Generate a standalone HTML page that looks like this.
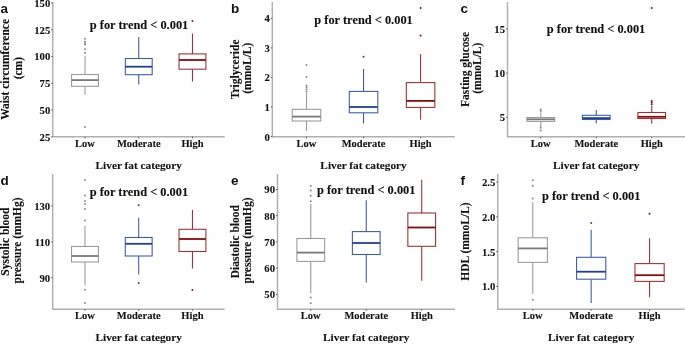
<!DOCTYPE html><html><head><meta charset="utf-8"><style>html,body{margin:0;padding:0;background:#fff;}body{width:685px;height:344px;overflow:hidden;}svg{display:block;will-change:transform;}</style></head><body><svg width="685" height="344" viewBox="0 0 685 344"><rect width="685" height="344" fill="#fff"/><path d="M52.8 2.0V136.8H224.7" fill="none" stroke="#b0b0b0" stroke-width="1.45"/><line x1="51.199999999999996" y1="136.80" x2="52.8" y2="136.80" stroke="#444" stroke-width="0.8"/><text x="50.3" y="140.70" font-family="Liberation Serif" font-weight="bold" stroke="#111" stroke-width="0.1" font-size="10.7" text-anchor="end" fill="#111">25</text><line x1="51.199999999999996" y1="110.04" x2="52.8" y2="110.04" stroke="#444" stroke-width="0.8"/><text x="50.3" y="113.94" font-family="Liberation Serif" font-weight="bold" stroke="#111" stroke-width="0.1" font-size="10.7" text-anchor="end" fill="#111">50</text><line x1="51.199999999999996" y1="83.28" x2="52.8" y2="83.28" stroke="#444" stroke-width="0.8"/><text x="50.3" y="87.18" font-family="Liberation Serif" font-weight="bold" stroke="#111" stroke-width="0.1" font-size="10.7" text-anchor="end" fill="#111">75</text><line x1="51.199999999999996" y1="56.52" x2="52.8" y2="56.52" stroke="#444" stroke-width="0.8"/><text x="50.3" y="60.42" font-family="Liberation Serif" font-weight="bold" stroke="#111" stroke-width="0.1" font-size="10.7" text-anchor="end" fill="#111">100</text><line x1="51.199999999999996" y1="29.76" x2="52.8" y2="29.76" stroke="#444" stroke-width="0.8"/><text x="50.3" y="33.66" font-family="Liberation Serif" font-weight="bold" stroke="#111" stroke-width="0.1" font-size="10.7" text-anchor="end" fill="#111">125</text><line x1="51.199999999999996" y1="3.00" x2="52.8" y2="3.00" stroke="#444" stroke-width="0.8"/><text x="50.3" y="6.90" font-family="Liberation Serif" font-weight="bold" stroke="#111" stroke-width="0.1" font-size="10.7" text-anchor="end" fill="#111">150</text><line x1="85.03" y1="136.8" x2="85.03" y2="138.4" stroke="#444" stroke-width="0.8"/><text x="85.03" y="147.00" font-family="Liberation Serif" font-weight="bold" stroke="#111" stroke-width="0.1" font-size="10.5" text-anchor="middle" fill="#111">Low</text><line x1="138.75" y1="136.8" x2="138.75" y2="138.4" stroke="#444" stroke-width="0.8"/><text x="138.75" y="147.00" font-family="Liberation Serif" font-weight="bold" stroke="#111" stroke-width="0.1" font-size="10.5" text-anchor="middle" fill="#111">Moderate</text><line x1="192.47" y1="136.8" x2="192.47" y2="138.4" stroke="#444" stroke-width="0.8"/><text x="192.47" y="147.00" font-family="Liberation Serif" font-weight="bold" stroke="#111" stroke-width="0.1" font-size="10.5" text-anchor="middle" fill="#111">High</text><text x="138.75" y="168.50" font-family="Liberation Serif" font-weight="bold" stroke="#111" stroke-width="0.1" font-size="11.3" text-anchor="middle" fill="#111">Liver fat category</text><g stroke="#9a9a9a" stroke-width="1.07" fill="none"><line x1="85.03" y1="56.2" x2="85.03" y2="74.5"/><line x1="85.03" y1="86.3" x2="85.03" y2="94.7"/><rect x="71.60" y="74.5" width="26.86" height="11.80" fill="#fff"/></g><line x1="71.60" y1="80.1" x2="98.46" y2="80.1" stroke="#7a7a7a" stroke-width="1.8"/><circle cx="85.03" cy="38.7" r="1.0" fill="#8c8c8c"/><circle cx="85.03" cy="41.8" r="1.0" fill="#8c8c8c"/><circle cx="85.03" cy="43.2" r="1.0" fill="#8c8c8c"/><circle cx="85.03" cy="44.6" r="1.0" fill="#8c8c8c"/><circle cx="85.03" cy="49.2" r="1.0" fill="#8c8c8c"/><circle cx="85.03" cy="53.1" r="1.0" fill="#8c8c8c"/><circle cx="85.03" cy="127" r="1.0" fill="#8c8c8c"/><g stroke="#3a5aad" stroke-width="1.07" fill="none"><line x1="138.75" y1="37" x2="138.75" y2="58.5"/><line x1="138.75" y1="74.7" x2="138.75" y2="84.5"/><rect x="125.32" y="58.5" width="26.86" height="16.20" fill="#fff"/></g><line x1="125.32" y1="66.7" x2="152.18" y2="66.7" stroke="#20409a" stroke-width="1.8"/><g stroke="#9e3030" stroke-width="1.07" fill="none"><line x1="192.47" y1="33.6" x2="192.47" y2="53.9"/><line x1="192.47" y1="69.2" x2="192.47" y2="81.6"/><rect x="179.04" y="53.9" width="26.86" height="15.30" fill="#fff"/></g><line x1="179.04" y1="60" x2="205.90" y2="60" stroke="#8b0b0b" stroke-width="1.8"/><circle cx="192.47" cy="21.1" r="1.0" fill="#950f0f"/><text x="89.8" y="29.3" font-family="Liberation Serif" font-weight="bold" stroke="#111" stroke-width="0.1" font-size="12.4" fill="#111">p for trend &lt; 0.001</text><text x="0.5" y="12.6" font-family="Liberation Sans" font-weight="bold" font-size="13.5" fill="#111">a</text><text transform="translate(9.10,69.40) rotate(-90)" font-family="Liberation Serif" font-weight="bold" stroke="#111" stroke-width="0.1" font-size="11.5" text-anchor="middle" fill="#111">Waist circumference</text><text transform="translate(21.50,68.20) rotate(-90)" font-family="Liberation Serif" font-weight="bold" stroke="#111" stroke-width="0.1" font-size="11.5" text-anchor="middle" fill="#111">(cm)</text><path d="M272.3 2.0V136.8H454.8" fill="none" stroke="#b0b0b0" stroke-width="1.45"/><line x1="270.7" y1="136.60" x2="272.3" y2="136.60" stroke="#444" stroke-width="0.8"/><text x="269.8" y="140.50" font-family="Liberation Serif" font-weight="bold" stroke="#111" stroke-width="0.1" font-size="10.7" text-anchor="end" fill="#111">0</text><line x1="270.7" y1="107.02" x2="272.3" y2="107.02" stroke="#444" stroke-width="0.8"/><text x="269.8" y="110.92" font-family="Liberation Serif" font-weight="bold" stroke="#111" stroke-width="0.1" font-size="10.7" text-anchor="end" fill="#111">1</text><line x1="270.7" y1="77.45" x2="272.3" y2="77.45" stroke="#444" stroke-width="0.8"/><text x="269.8" y="81.35" font-family="Liberation Serif" font-weight="bold" stroke="#111" stroke-width="0.1" font-size="10.7" text-anchor="end" fill="#111">2</text><line x1="270.7" y1="47.88" x2="272.3" y2="47.88" stroke="#444" stroke-width="0.8"/><text x="269.8" y="51.77" font-family="Liberation Serif" font-weight="bold" stroke="#111" stroke-width="0.1" font-size="10.7" text-anchor="end" fill="#111">3</text><line x1="270.7" y1="18.30" x2="272.3" y2="18.30" stroke="#444" stroke-width="0.8"/><text x="269.8" y="22.20" font-family="Liberation Serif" font-weight="bold" stroke="#111" stroke-width="0.1" font-size="10.7" text-anchor="end" fill="#111">4</text><line x1="306.52" y1="136.8" x2="306.52" y2="138.4" stroke="#444" stroke-width="0.8"/><text x="306.52" y="147.00" font-family="Liberation Serif" font-weight="bold" stroke="#111" stroke-width="0.1" font-size="10.5" text-anchor="middle" fill="#111">Low</text><line x1="363.55" y1="136.8" x2="363.55" y2="138.4" stroke="#444" stroke-width="0.8"/><text x="363.55" y="147.00" font-family="Liberation Serif" font-weight="bold" stroke="#111" stroke-width="0.1" font-size="10.5" text-anchor="middle" fill="#111">Moderate</text><line x1="420.58" y1="136.8" x2="420.58" y2="138.4" stroke="#444" stroke-width="0.8"/><text x="420.58" y="147.00" font-family="Liberation Serif" font-weight="bold" stroke="#111" stroke-width="0.1" font-size="10.5" text-anchor="middle" fill="#111">High</text><text x="363.55" y="168.50" font-family="Liberation Serif" font-weight="bold" stroke="#111" stroke-width="0.1" font-size="11.3" text-anchor="middle" fill="#111">Liver fat category</text><g stroke="#9a9a9a" stroke-width="1.07" fill="none"><line x1="306.52" y1="92.6" x2="306.52" y2="109.3"/><line x1="306.52" y1="121" x2="306.52" y2="131"/><rect x="292.26" y="109.3" width="28.52" height="11.70" fill="#fff"/></g><line x1="292.26" y1="116.6" x2="320.78" y2="116.6" stroke="#7a7a7a" stroke-width="1.8"/><circle cx="306.52" cy="64.9" r="1.0" fill="#8c8c8c"/><circle cx="306.52" cy="76.9" r="1.0" fill="#8c8c8c"/><circle cx="306.52" cy="85.5" r="1.0" fill="#8c8c8c"/><circle cx="306.52" cy="87.2" r="1.0" fill="#8c8c8c"/><circle cx="306.52" cy="89.3" r="1.0" fill="#8c8c8c"/><circle cx="306.52" cy="91.6" r="1.0" fill="#8c8c8c"/><g stroke="#3a5aad" stroke-width="1.07" fill="none"><line x1="363.55" y1="69" x2="363.55" y2="91.4"/><line x1="363.55" y1="112.8" x2="363.55" y2="123.4"/><rect x="349.29" y="91.4" width="28.52" height="21.40" fill="#fff"/></g><line x1="349.29" y1="107" x2="377.81" y2="107" stroke="#20409a" stroke-width="1.8"/><circle cx="363.55" cy="56.8" r="1.0" fill="#2a4aa0"/><g stroke="#9e3030" stroke-width="1.07" fill="none"><line x1="420.58" y1="54.1" x2="420.58" y2="82.6"/><line x1="420.58" y1="107.4" x2="420.58" y2="119.8"/><rect x="406.32" y="82.6" width="28.52" height="24.80" fill="#fff"/></g><line x1="406.32" y1="100.9" x2="434.84" y2="100.9" stroke="#8b0b0b" stroke-width="1.8"/><circle cx="420.58" cy="7.9" r="1.0" fill="#950f0f"/><circle cx="420.58" cy="35.5" r="1.0" fill="#950f0f"/><text x="314.3" y="23.5" font-family="Liberation Serif" font-weight="bold" stroke="#111" stroke-width="0.1" font-size="12.4" fill="#111">p for trend &lt; 0.001</text><text x="231" y="12.6" font-family="Liberation Sans" font-weight="bold" font-size="13.5" fill="#111">b</text><text transform="translate(238.60,69.40) rotate(-90)" font-family="Liberation Serif" font-weight="bold" stroke="#111" stroke-width="0.1" font-size="11.5" text-anchor="middle" fill="#111">Triglyceride</text><text transform="translate(251.00,68.20) rotate(-90)" font-family="Liberation Serif" font-weight="bold" stroke="#111" stroke-width="0.1" font-size="11.5" text-anchor="middle" fill="#111">(mmoL/L)</text><path d="M507.5 2.0V136.8H685" fill="none" stroke="#b0b0b0" stroke-width="1.45"/><line x1="505.9" y1="117.30" x2="507.5" y2="117.30" stroke="#444" stroke-width="0.8"/><text x="505.0" y="121.20" font-family="Liberation Serif" font-weight="bold" stroke="#111" stroke-width="0.1" font-size="10.7" text-anchor="end" fill="#111">5</text><line x1="505.9" y1="73.05" x2="507.5" y2="73.05" stroke="#444" stroke-width="0.8"/><text x="505.0" y="76.95" font-family="Liberation Serif" font-weight="bold" stroke="#111" stroke-width="0.1" font-size="10.7" text-anchor="end" fill="#111">10</text><line x1="505.9" y1="28.80" x2="507.5" y2="28.80" stroke="#444" stroke-width="0.8"/><text x="505.0" y="32.70" font-family="Liberation Serif" font-weight="bold" stroke="#111" stroke-width="0.1" font-size="10.7" text-anchor="end" fill="#111">15</text><line x1="540.78" y1="136.8" x2="540.78" y2="138.4" stroke="#444" stroke-width="0.8"/><text x="540.78" y="147.00" font-family="Liberation Serif" font-weight="bold" stroke="#111" stroke-width="0.1" font-size="10.5" text-anchor="middle" fill="#111">Low</text><line x1="596.25" y1="136.8" x2="596.25" y2="138.4" stroke="#444" stroke-width="0.8"/><text x="596.25" y="147.00" font-family="Liberation Serif" font-weight="bold" stroke="#111" stroke-width="0.1" font-size="10.5" text-anchor="middle" fill="#111">Moderate</text><line x1="651.72" y1="136.8" x2="651.72" y2="138.4" stroke="#444" stroke-width="0.8"/><text x="651.72" y="147.00" font-family="Liberation Serif" font-weight="bold" stroke="#111" stroke-width="0.1" font-size="10.5" text-anchor="middle" fill="#111">High</text><text x="596.25" y="168.50" font-family="Liberation Serif" font-weight="bold" stroke="#111" stroke-width="0.1" font-size="11.3" text-anchor="middle" fill="#111">Liver fat category</text><g stroke="#9a9a9a" stroke-width="1.07" fill="none"><line x1="540.78" y1="112.2" x2="540.78" y2="117.5"/><line x1="540.78" y1="121.4" x2="540.78" y2="127"/><rect x="526.91" y="117.5" width="27.73" height="3.90" fill="#fff"/></g><line x1="526.91" y1="119.3" x2="554.65" y2="119.3" stroke="#7a7a7a" stroke-width="1.8"/><circle cx="540.78" cy="109.4" r="1.0" fill="#8c8c8c"/><circle cx="540.78" cy="111.0" r="1.0" fill="#8c8c8c"/><circle cx="540.78" cy="127.8" r="1.0" fill="#8c8c8c"/><circle cx="540.78" cy="130.5" r="1.0" fill="#8c8c8c"/><g stroke="#3a5aad" stroke-width="1.07" fill="none"><line x1="596.25" y1="109.9" x2="596.25" y2="115.3"/><line x1="596.25" y1="119.5" x2="596.25" y2="123.6"/><rect x="582.38" y="115.3" width="27.73" height="4.20" fill="#fff"/></g><line x1="582.38" y1="118.1" x2="610.12" y2="118.1" stroke="#20409a" stroke-width="1.8"/><g stroke="#9e3030" stroke-width="1.07" fill="none"><line x1="651.72" y1="105.7" x2="651.72" y2="112.5"/><line x1="651.72" y1="118.5" x2="651.72" y2="123.7"/><rect x="637.85" y="112.5" width="27.73" height="6.00" fill="#fff"/></g><line x1="637.85" y1="116.8" x2="665.59" y2="116.8" stroke="#8b0b0b" stroke-width="1.8"/><circle cx="651.72" cy="7.9" r="1.0" fill="#950f0f"/><circle cx="651.72" cy="101.1" r="1.0" fill="#950f0f"/><circle cx="651.72" cy="102.5" r="1.0" fill="#950f0f"/><circle cx="651.72" cy="104.2" r="1.0" fill="#950f0f"/><text x="546.8" y="33.0" font-family="Liberation Serif" font-weight="bold" stroke="#111" stroke-width="0.1" font-size="12.4" fill="#111">p for trend &lt; 0.001</text><text x="460.5" y="12.6" font-family="Liberation Sans" font-weight="bold" font-size="13.5" fill="#111">c</text><text transform="translate(468.80,69.40) rotate(-90)" font-family="Liberation Serif" font-weight="bold" stroke="#111" stroke-width="0.1" font-size="11.5" text-anchor="middle" fill="#111">Fasting glucose</text><text transform="translate(481.20,68.20) rotate(-90)" font-family="Liberation Serif" font-weight="bold" stroke="#111" stroke-width="0.1" font-size="11.5" text-anchor="middle" fill="#111">(mmoL/L)</text><path d="M52.7 174.0V309.25H224.7" fill="none" stroke="#b0b0b0" stroke-width="1.45"/><line x1="51.1" y1="277.80" x2="52.7" y2="277.80" stroke="#444" stroke-width="0.8"/><text x="50.2" y="281.70" font-family="Liberation Serif" font-weight="bold" stroke="#111" stroke-width="0.1" font-size="10.7" text-anchor="end" fill="#111">90</text><line x1="51.1" y1="241.90" x2="52.7" y2="241.90" stroke="#444" stroke-width="0.8"/><text x="50.2" y="245.80" font-family="Liberation Serif" font-weight="bold" stroke="#111" stroke-width="0.1" font-size="10.7" text-anchor="end" fill="#111">110</text><line x1="51.1" y1="206.00" x2="52.7" y2="206.00" stroke="#444" stroke-width="0.8"/><text x="50.2" y="209.90" font-family="Liberation Serif" font-weight="bold" stroke="#111" stroke-width="0.1" font-size="10.7" text-anchor="end" fill="#111">130</text><line x1="84.95" y1="309.25" x2="84.95" y2="310.85" stroke="#444" stroke-width="0.8"/><text x="84.95" y="319.45" font-family="Liberation Serif" font-weight="bold" stroke="#111" stroke-width="0.1" font-size="10.5" text-anchor="middle" fill="#111">Low</text><line x1="138.70" y1="309.25" x2="138.70" y2="310.85" stroke="#444" stroke-width="0.8"/><text x="138.70" y="319.45" font-family="Liberation Serif" font-weight="bold" stroke="#111" stroke-width="0.1" font-size="10.5" text-anchor="middle" fill="#111">Moderate</text><line x1="192.45" y1="309.25" x2="192.45" y2="310.85" stroke="#444" stroke-width="0.8"/><text x="192.45" y="319.45" font-family="Liberation Serif" font-weight="bold" stroke="#111" stroke-width="0.1" font-size="10.5" text-anchor="middle" fill="#111">High</text><text x="138.70" y="340.95" font-family="Liberation Serif" font-weight="bold" stroke="#111" stroke-width="0.1" font-size="11.3" text-anchor="middle" fill="#111">Liver fat category</text><g stroke="#9a9a9a" stroke-width="1.07" fill="none"><line x1="84.95" y1="225.75" x2="84.95" y2="246.5"/><line x1="84.95" y1="262.0" x2="84.95" y2="285.4"/><rect x="71.51" y="246.5" width="26.88" height="15.50" fill="#fff"/></g><line x1="71.51" y1="256.0" x2="98.39" y2="256.0" stroke="#7a7a7a" stroke-width="1.8"/><circle cx="84.95" cy="180.1" r="1.0" fill="#8c8c8c"/><circle cx="84.95" cy="195.4" r="1.0" fill="#8c8c8c"/><circle cx="84.95" cy="200.9" r="1.0" fill="#8c8c8c"/><circle cx="84.95" cy="204.1" r="1.0" fill="#8c8c8c"/><circle cx="84.95" cy="208.9" r="1.0" fill="#8c8c8c"/><circle cx="84.95" cy="220.4" r="1.0" fill="#8c8c8c"/><circle cx="84.95" cy="289.8" r="1.0" fill="#8c8c8c"/><circle cx="84.95" cy="303.1" r="1.0" fill="#8c8c8c"/><g stroke="#3a5aad" stroke-width="1.07" fill="none"><line x1="138.70" y1="217.8" x2="138.70" y2="237.5"/><line x1="138.70" y1="256.0" x2="138.70" y2="274.5"/><rect x="125.26" y="237.5" width="26.88" height="18.50" fill="#fff"/></g><line x1="125.26" y1="243.8" x2="152.14" y2="243.8" stroke="#20409a" stroke-width="1.8"/><circle cx="138.70" cy="205.2" r="1.0" fill="#2a4aa0"/><circle cx="138.70" cy="283.1" r="1.0" fill="#2a4aa0"/><g stroke="#9e3030" stroke-width="1.07" fill="none"><line x1="192.45" y1="209.9" x2="192.45" y2="229.3"/><line x1="192.45" y1="251.5" x2="192.45" y2="268.5"/><rect x="179.01" y="229.3" width="26.88" height="22.20" fill="#fff"/></g><line x1="179.01" y1="239.0" x2="205.89" y2="239.0" stroke="#8b0b0b" stroke-width="1.8"/><circle cx="192.45" cy="290" r="1.0" fill="#950f0f"/><text x="89.7" y="195.8" font-family="Liberation Serif" font-weight="bold" stroke="#111" stroke-width="0.1" font-size="12.4" fill="#111">p for trend &lt; 0.001</text><text x="0.5" y="184.9" font-family="Liberation Sans" font-weight="bold" font-size="13.5" fill="#111">d</text><text transform="translate(9.00,241.62) rotate(-90)" font-family="Liberation Serif" font-weight="bold" stroke="#111" stroke-width="0.1" font-size="11.5" text-anchor="middle" fill="#111">Systolic blood</text><text transform="translate(21.40,240.43) rotate(-90)" font-family="Liberation Serif" font-weight="bold" stroke="#111" stroke-width="0.1" font-size="11.5" text-anchor="middle" fill="#111">pressure (mmHg)</text><path d="M277.5 174.0V309.25H455.0" fill="none" stroke="#b0b0b0" stroke-width="1.45"/><line x1="275.9" y1="294.30" x2="277.5" y2="294.30" stroke="#444" stroke-width="0.8"/><text x="275.0" y="298.20" font-family="Liberation Serif" font-weight="bold" stroke="#111" stroke-width="0.1" font-size="10.7" text-anchor="end" fill="#111">50</text><line x1="275.9" y1="268.10" x2="277.5" y2="268.10" stroke="#444" stroke-width="0.8"/><text x="275.0" y="272.00" font-family="Liberation Serif" font-weight="bold" stroke="#111" stroke-width="0.1" font-size="10.7" text-anchor="end" fill="#111">60</text><line x1="275.9" y1="241.90" x2="277.5" y2="241.90" stroke="#444" stroke-width="0.8"/><text x="275.0" y="245.80" font-family="Liberation Serif" font-weight="bold" stroke="#111" stroke-width="0.1" font-size="10.7" text-anchor="end" fill="#111">70</text><line x1="275.9" y1="215.70" x2="277.5" y2="215.70" stroke="#444" stroke-width="0.8"/><text x="275.0" y="219.60" font-family="Liberation Serif" font-weight="bold" stroke="#111" stroke-width="0.1" font-size="10.7" text-anchor="end" fill="#111">80</text><line x1="275.9" y1="189.50" x2="277.5" y2="189.50" stroke="#444" stroke-width="0.8"/><text x="275.0" y="193.40" font-family="Liberation Serif" font-weight="bold" stroke="#111" stroke-width="0.1" font-size="10.7" text-anchor="end" fill="#111">90</text><line x1="310.78" y1="309.25" x2="310.78" y2="310.85" stroke="#444" stroke-width="0.8"/><text x="310.78" y="319.45" font-family="Liberation Serif" font-weight="bold" stroke="#111" stroke-width="0.1" font-size="10.5" text-anchor="middle" fill="#111">Low</text><line x1="366.25" y1="309.25" x2="366.25" y2="310.85" stroke="#444" stroke-width="0.8"/><text x="366.25" y="319.45" font-family="Liberation Serif" font-weight="bold" stroke="#111" stroke-width="0.1" font-size="10.5" text-anchor="middle" fill="#111">Moderate</text><line x1="421.72" y1="309.25" x2="421.72" y2="310.85" stroke="#444" stroke-width="0.8"/><text x="421.72" y="319.45" font-family="Liberation Serif" font-weight="bold" stroke="#111" stroke-width="0.1" font-size="10.5" text-anchor="middle" fill="#111">High</text><text x="366.25" y="340.95" font-family="Liberation Serif" font-weight="bold" stroke="#111" stroke-width="0.1" font-size="11.3" text-anchor="middle" fill="#111">Liver fat category</text><g stroke="#9a9a9a" stroke-width="1.07" fill="none"><line x1="310.78" y1="204" x2="310.78" y2="238.5"/><line x1="310.78" y1="261.4" x2="310.78" y2="293.3"/><rect x="296.91" y="238.5" width="27.73" height="22.90" fill="#fff"/></g><line x1="296.91" y1="252.6" x2="324.65" y2="252.6" stroke="#7a7a7a" stroke-width="1.8"/><circle cx="310.78" cy="185.9" r="1.0" fill="#8c8c8c"/><circle cx="310.78" cy="190.6" r="1.0" fill="#8c8c8c"/><circle cx="310.78" cy="195.7" r="1.0" fill="#8c8c8c"/><circle cx="310.78" cy="201.3" r="1.0" fill="#8c8c8c"/><circle cx="310.78" cy="297.4" r="1.0" fill="#8c8c8c"/><circle cx="310.78" cy="303.3" r="1.0" fill="#8c8c8c"/><g stroke="#3a5aad" stroke-width="1.07" fill="none"><line x1="366.25" y1="200.2" x2="366.25" y2="231.6"/><line x1="366.25" y1="254.5" x2="366.25" y2="282.4"/><rect x="352.38" y="231.6" width="27.73" height="22.90" fill="#fff"/></g><line x1="352.38" y1="243.0" x2="380.12" y2="243.0" stroke="#20409a" stroke-width="1.8"/><g stroke="#9e3030" stroke-width="1.07" fill="none"><line x1="421.72" y1="179.8" x2="421.72" y2="213"/><line x1="421.72" y1="246.3" x2="421.72" y2="280.8"/><rect x="407.85" y="213" width="27.73" height="33.30" fill="#fff"/></g><line x1="407.85" y1="227.5" x2="435.59" y2="227.5" stroke="#8b0b0b" stroke-width="1.8"/><text x="317" y="194.2" font-family="Liberation Serif" font-weight="bold" stroke="#111" stroke-width="0.1" font-size="12.4" fill="#111">p for trend &lt; 0.001</text><text x="231" y="184.9" font-family="Liberation Sans" font-weight="bold" font-size="13.5" fill="#111">e</text><text transform="translate(238.80,241.62) rotate(-90)" font-family="Liberation Serif" font-weight="bold" stroke="#111" stroke-width="0.1" font-size="11.5" text-anchor="middle" fill="#111">Diastolic blood</text><text transform="translate(251.20,240.43) rotate(-90)" font-family="Liberation Serif" font-weight="bold" stroke="#111" stroke-width="0.1" font-size="11.5" text-anchor="middle" fill="#111">pressure (mmHg)</text><path d="M497.75 174.0V309.25H684.6" fill="none" stroke="#b0b0b0" stroke-width="1.45"/><line x1="496.15" y1="286.40" x2="497.75" y2="286.40" stroke="#444" stroke-width="0.8"/><text x="495.25" y="290.30" font-family="Liberation Serif" font-weight="bold" stroke="#111" stroke-width="0.1" font-size="10.7" text-anchor="end" fill="#111">1.0</text><line x1="496.15" y1="251.63" x2="497.75" y2="251.63" stroke="#444" stroke-width="0.8"/><text x="495.25" y="255.53" font-family="Liberation Serif" font-weight="bold" stroke="#111" stroke-width="0.1" font-size="10.7" text-anchor="end" fill="#111">1.5</text><line x1="496.15" y1="216.87" x2="497.75" y2="216.87" stroke="#444" stroke-width="0.8"/><text x="495.25" y="220.77" font-family="Liberation Serif" font-weight="bold" stroke="#111" stroke-width="0.1" font-size="10.7" text-anchor="end" fill="#111">2.0</text><line x1="496.15" y1="182.10" x2="497.75" y2="182.10" stroke="#444" stroke-width="0.8"/><text x="495.25" y="186.00" font-family="Liberation Serif" font-weight="bold" stroke="#111" stroke-width="0.1" font-size="10.7" text-anchor="end" fill="#111">2.5</text><line x1="532.78" y1="309.25" x2="532.78" y2="310.85" stroke="#444" stroke-width="0.8"/><text x="532.78" y="319.45" font-family="Liberation Serif" font-weight="bold" stroke="#111" stroke-width="0.1" font-size="10.5" text-anchor="middle" fill="#111">Low</text><line x1="591.17" y1="309.25" x2="591.17" y2="310.85" stroke="#444" stroke-width="0.8"/><text x="591.17" y="319.45" font-family="Liberation Serif" font-weight="bold" stroke="#111" stroke-width="0.1" font-size="10.5" text-anchor="middle" fill="#111">Moderate</text><line x1="649.57" y1="309.25" x2="649.57" y2="310.85" stroke="#444" stroke-width="0.8"/><text x="649.57" y="319.45" font-family="Liberation Serif" font-weight="bold" stroke="#111" stroke-width="0.1" font-size="10.5" text-anchor="middle" fill="#111">High</text><text x="591.17" y="340.95" font-family="Liberation Serif" font-weight="bold" stroke="#111" stroke-width="0.1" font-size="11.3" text-anchor="middle" fill="#111">Liver fat category</text><g stroke="#9a9a9a" stroke-width="1.07" fill="none"><line x1="532.78" y1="202" x2="532.78" y2="237.8"/><line x1="532.78" y1="262.4" x2="532.78" y2="294"/><rect x="518.19" y="237.8" width="29.20" height="24.60" fill="#fff"/></g><line x1="518.19" y1="248.4" x2="547.38" y2="248.4" stroke="#7a7a7a" stroke-width="1.8"/><circle cx="532.78" cy="180.2" r="1.0" fill="#8c8c8c"/><circle cx="532.78" cy="185.8" r="1.0" fill="#8c8c8c"/><circle cx="532.78" cy="198.5" r="1.0" fill="#8c8c8c"/><circle cx="532.78" cy="299.8" r="1.0" fill="#8c8c8c"/><g stroke="#3a5aad" stroke-width="1.07" fill="none"><line x1="591.17" y1="229.8" x2="591.17" y2="257.3"/><line x1="591.17" y1="279.2" x2="591.17" y2="303"/><rect x="576.58" y="257.3" width="29.20" height="21.90" fill="#fff"/></g><line x1="576.58" y1="271.7" x2="605.77" y2="271.7" stroke="#20409a" stroke-width="1.8"/><circle cx="591.17" cy="223.1" r="1.0" fill="#2a4aa0"/><g stroke="#9e3030" stroke-width="1.07" fill="none"><line x1="649.57" y1="238.2" x2="649.57" y2="263.6"/><line x1="649.57" y1="281.4" x2="649.57" y2="297.2"/><rect x="634.97" y="263.6" width="29.20" height="17.80" fill="#fff"/></g><line x1="634.97" y1="275.2" x2="664.16" y2="275.2" stroke="#8b0b0b" stroke-width="1.8"/><circle cx="649.57" cy="213.8" r="1.0" fill="#950f0f"/><text x="542" y="199.8" font-family="Liberation Serif" font-weight="bold" stroke="#111" stroke-width="0.1" font-size="12.4" fill="#111">p for trend &lt; 0.001</text><text x="460.5" y="184.9" font-family="Liberation Sans" font-weight="bold" font-size="13.5" fill="#111">f</text><text transform="translate(468.95,241.62) rotate(-90)" font-family="Liberation Serif" font-weight="bold" stroke="#111" stroke-width="0.1" font-size="11.5" text-anchor="middle" fill="#111">HDL (mmoL/L)</text></svg></body></html>
